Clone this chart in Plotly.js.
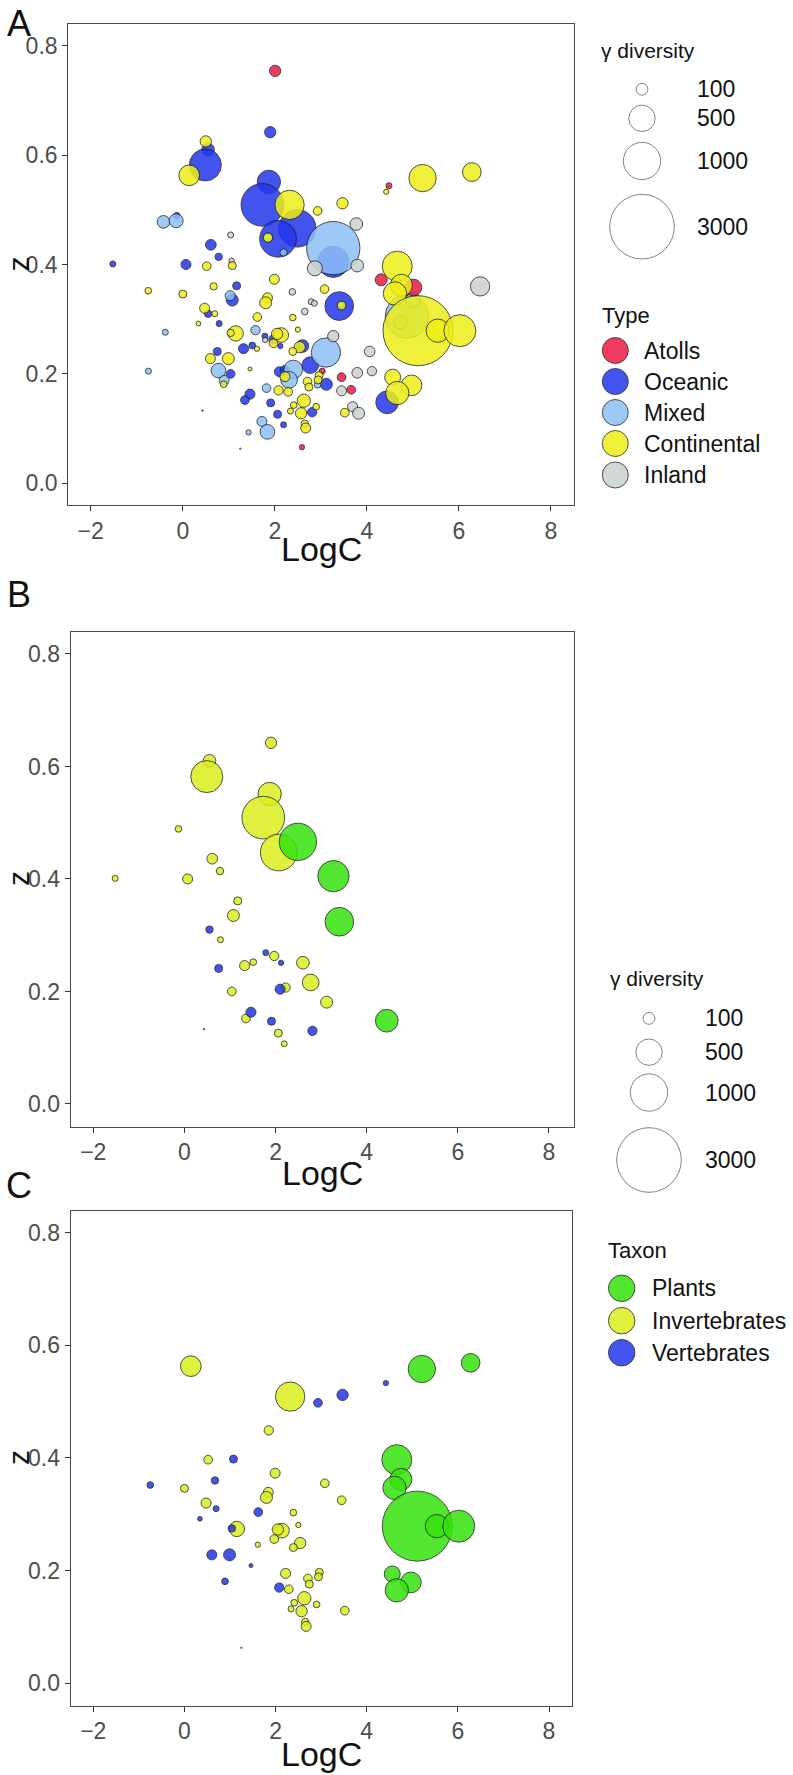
<!DOCTYPE html>
<html>
<head>
<meta charset="utf-8">
<script src="https://cdn.plot.ly/plotly-3.0.1.min.js"></script>
<style>
html,body{margin:0;padding:0;background:#ffffff;}
#chart{width:793px;height:1775px;}
</style>
</head>
<body>
<div id="chart"></div>
<script>
// ---------------- DATA ----------------
// Oceanic islands: panel B (coloured by taxon) and "Oceanic" in panel A
const oceanicLogC  = [1.90, 0.55, 0.49, 1.87, 1.73, 2.49, 2.07, -0.13, 0.61, 0.78, -1.52, 0.07, 3.27, 3.40, 1.17, 1.075, 0.55, 0.79, 1.785, 1.97, 2.12, 0.75, 1.32, 1.51, 2.60, 2.77, 2.10, 2.22, 1.04, 3.12, 1.46, 1.35, 1.91, 2.81, 2.06, 2.19, 0.43, 4.44];
const oceanicZ     = [0.642, 0.610, 0.582, 0.551, 0.509, 0.466, 0.447, 0.489, 0.436, 0.414, 0.401, 0.400, 0.405, 0.324, 0.361, 0.335, 0.310, 0.292, 0.269, 0.263, 0.251, 0.241, 0.246, 0.252, 0.251, 0.216, 0.204, 0.207, 0.200, 0.181, 0.163, 0.152, 0.147, 0.130, 0.126, 0.107, 0.133, 0.148];
const oceanicGamma = [92, 115, 735, 390, 1308, 1000, 966, 32, 82, 39, 26, 72, 704, 590, 46, 103, 39, 26, 26, 62, 20, 46, 72, 32, 115, 200, 72, 62, 54, 103, 72, 54, 46, 62, 46, 26, 1.5, 370];
const oceanicTaxon = ['Invertebrates','Invertebrates','Invertebrates','Invertebrates','Invertebrates','Plants','Invertebrates','Invertebrates','Invertebrates','Invertebrates',
                      'Invertebrates','Invertebrates','Plants','Plants','Invertebrates','Invertebrates','Vertebrates','Invertebrates','Vertebrates','Invertebrates',
                      'Vertebrates','Vertebrates','Invertebrates','Invertebrates','Invertebrates','Invertebrates','Vertebrates','Invertebrates','Invertebrates','Invertebrates',
                      'Vertebrates','Invertebrates','Vertebrates','Vertebrates','Invertebrates','Invertebrates','Vertebrates','Plants'];

// Continental islands: panel C (coloured by taxon) and "Continental" in panel A
const continentalLogC  = [0.14, 2.32, 2.93, 3.47, 4.42, 1.85, 0.52, 1.075, 1.99, -0.75, 0.67, 0.00, 3.08, 1.84, 1.80, 3.45, 0.475, 0.695, 0.34, 1.62,
                          2.39, 2.50, 1.15, 1.04, 2.14, 2.05, 1.97, 1.61, 2.54, 2.39, 0.60, 0.99, 1.46, 0.89, 2.22, 2.08, 2.29, 2.71, 2.74, 2.96,
                          2.94, 2.63, 2.41, 2.34, 2.57, 2.90, 3.52, 2.65, 2.67, 1.25, 5.21, 6.28, 4.66, 4.75, 4.61, 5.11, 5.54, 6.02, 4.56, 4.97,
                          4.66, 0.50];
const continentalZ     = [0.563, 0.509, 0.498, 0.512, 0.533, 0.449, 0.397, 0.398, 0.373, 0.352, 0.360, 0.346, 0.355, 0.339, 0.330, 0.325, 0.320, 0.310, 0.292, 0.304,
                          0.303, 0.281, 0.274, 0.275, 0.271, 0.273, 0.256, 0.246, 0.249, 0.241, 0.228, 0.228, 0.209, 0.181, 0.195, 0.170, 0.167, 0.186, 0.176, 0.197,
                          0.189, 0.151, 0.143, 0.132, 0.128, 0.140, 0.129, 0.109, 0.101, 0.063, 0.558, 0.569, 0.397, 0.362, 0.347, 0.279, 0.279, 0.279, 0.194, 0.179,
                          0.165, 0.625];
const continentalGamma = [307, 617, 54, 92, 20, 62, 54, 46, 72, 32, 39, 46, 54, 72, 103, 54, 72, 26, 16, 54,
                          32, 20, 169, 39, 155, 92, 54, 20, 92, 46, 72, 103, 11.5, 32, 72, 62, 54, 54, 46, 46,
                          46, 127, 32, 26, 92, 32, 54, 39, 72, 1.5, 536, 251, 646, 348, 390, 3520, 390, 735, 184, 307,
                          390, 92];
const continentalTaxon = ['Invertebrates','Invertebrates','Vertebrates','Vertebrates','Vertebrates','Invertebrates','Invertebrates','Vertebrates','Invertebrates','Vertebrates',
                          'Vertebrates','Invertebrates','Invertebrates','Invertebrates','Invertebrates','Invertebrates','Invertebrates','Vertebrates','Vertebrates','Vertebrates',
                          'Invertebrates','Invertebrates','Invertebrates','Vertebrates','Invertebrates','Invertebrates','Invertebrates','Invertebrates','Invertebrates','Invertebrates',
                          'Vertebrates','Vertebrates','Vertebrates','Vertebrates','Invertebrates','Vertebrates','Invertebrates','Invertebrates','Invertebrates','Invertebrates',
                          'Invertebrates','Invertebrates','Invertebrates','Invertebrates','Invertebrates','Invertebrates','Invertebrates','Invertebrates','Invertebrates','Invertebrates',
                          'Plants','Plants','Plants','Plants','Plants','Plants','Plants','Plants','Plants','Plants',
                          'Plants', null];

// Atolls (panel A only)
const atollsLogC  = [2.006, 4.48, 4.31, 5.01, 3.03, 3.45, 3.66, 2.59];
const atollsZ     = [0.754, 0.544, 0.372, 0.358, 0.205, 0.194, 0.171, 0.066];
const atollsGamma = [92, 26, 103, 200, 26, 54, 54, 20];

// Mixed (panel A only)
const mixedLogC  = [3.27, -0.42, -0.145, 1.03, -0.38, 1.58, 3.11, 0.775, 0.90, -0.746, 2.40, 2.31, 2.93, 1.82, 1.72, 1.84, 1.43, 4.87, 1.86, 2.19, 3.43, 4.73, 5.00];
const mixedZ     = [0.430, 0.478, 0.480, 0.343, 0.276, 0.280, 0.239, 0.206, 0.188, 0.205, 0.208, 0.189, 0.180, 0.174, 0.113, 0.094, 0.093, 0.305, 0.450, 0.422, 0.326, 0.294, 0.335];
const mixedGamma = [2040, 115, 141, 72, 26, 62, 617, 155, 72, 26, 251, 200, 32, 54, 72, 155, 20, 1340, 54, 39, 32, 127, 150];

// Inland (panel A only)
const inlandLogC  = [3.77, 2.87, 3.79, 1.04, 1.06, 2.38, 2.79, 2.86, 2.65, 1.79, 3.27, 3.79, 4.11, 4.06, 3.45, 3.69, 3.82, 6.46];
const inlandZ     = [0.474, 0.393, 0.398, 0.454, 0.407, 0.350, 0.332, 0.329, 0.314, 0.262, 0.269, 0.202, 0.205, 0.241, 0.169, 0.140, 0.128, 0.360];
const inlandGamma = [115, 162, 115, 26, 20, 32, 26, 26, 32, 20, 92, 82, 62, 82, 72, 72, 103, 268];

const typeNames  = ['Atolls', 'Oceanic', 'Mixed', 'Continental', 'Inland'];
const taxonNames = ['Plants', 'Invertebrates', 'Vertebrates'];
const sizeBreaks = [100, 500, 1000, 3000];
const sizeLabels = ['100', '500', '1000', '3000'];
const xTicks = [-2, 0, 2, 4, 6, 8];
const yTicks = [0, 0.2, 0.4, 0.6, 0.8];

// ---------------- STYLE ----------------
const FONT = '"Liberation Sans", Arial, Helvetica, sans-serif';
const W = 793, H = 1775;
const SIZEREF = 1.436;
const ALPHA = 0.85;
const typeColors  = {Atolls:'#EE1843', Oceanic:'#2337EC', Mixed:'#8DC0F5', Continental:'#EEEE18', Inland:'#CBD1D1'};
const taxonColors = {Plants:'#36E20C', Invertebrates:'#DAEE1E', Vertebrates:'#2337EC'};

function bubble(x, y, g, color, xa, ya) {
  return {type:'scatter', mode:'markers', x:x, y:y, xaxis:xa, yaxis:ya,
    marker:{size:g, sizemode:'area', sizeref:SIZEREF, sizemin:0.7, color:color, opacity:ALPHA,
            line:{color:'#1a1a1a', width:0.9}},
    hoverinfo:'x+y', showlegend:false};
}
function pick(arr, taxa, name) { return arr.filter((_, i) => taxa[i] === name); }

const traces = [];
// Panel A : by island type
traces.push(bubble(oceanicLogC, oceanicZ, oceanicGamma, typeColors.Oceanic, 'x', 'y'));
traces.push(bubble(mixedLogC, mixedZ, mixedGamma, typeColors.Mixed, 'x', 'y'));
traces.push(bubble(inlandLogC, inlandZ, inlandGamma, typeColors.Inland, 'x', 'y'));
traces.push(bubble(atollsLogC, atollsZ, atollsGamma, typeColors.Atolls, 'x', 'y'));
traces.push(bubble(continentalLogC, continentalZ, continentalGamma, typeColors.Continental, 'x', 'y'));
// Panel B : oceanic islands by taxon ; Panel C : continental islands by taxon
['Invertebrates', 'Plants', 'Vertebrates'].forEach(t => {
  traces.push(bubble(pick(oceanicLogC, oceanicTaxon, t), pick(oceanicZ, oceanicTaxon, t),
                     pick(oceanicGamma, oceanicTaxon, t), taxonColors[t], 'x2', 'y2'));
});
['Invertebrates', 'Plants', 'Vertebrates'].forEach(t => {
  traces.push(bubble(pick(continentalLogC, continentalTaxon, t), pick(continentalZ, continentalTaxon, t),
                     pick(continentalGamma, continentalTaxon, t), taxonColors[t], 'x3', 'y3'));
});

// ---------------- LEGENDS (overlay axes in page pixels) ----------------
const sizeLegA = {x:642, ys:[89.3, 118.3, 161, 226.7], lx:696, title:{x:600, y:50}};
const sizeLegB = {x:649, ys:[1018.4, 1052.2, 1092.5, 1160], lx:704, title:{x:609, y:978}};
const typeLeg  = {x:615.3, ys:[350.5, 381.5, 412.5, 443.5, 475], lx:643.3, title:{x:600.5, y:315}, d:26};
const taxonLeg = {x:621.7, ys:[1288.3, 1320.7, 1352.7], lx:650.7, title:{x:606.5, y:1250}, d:26.5};

function sizeLegendTrace(leg) {
  return {type:'scatter', mode:'markers', xaxis:'x4', yaxis:'y4',
    x:sizeBreaks.map(() => leg.x), y:leg.ys,
    marker:{size:sizeBreaks, sizemode:'area', sizeref:SIZEREF, color:'rgba(255,255,255,0)',
            line:{color:'#3a3a3a', width:0.9}}, hoverinfo:'skip', showlegend:false};
}
traces.push(sizeLegendTrace(sizeLegA));
traces.push(sizeLegendTrace(sizeLegB));
traces.push({type:'scatter', mode:'markers', xaxis:'x4', yaxis:'y4',
  x:typeNames.map(() => typeLeg.x), y:typeLeg.ys,
  marker:{size:typeLeg.d, color:typeNames.map(n => typeColors[n]), opacity:ALPHA, line:{color:'#1a1a1a', width:0.9}},
  hoverinfo:'skip', showlegend:false});
traces.push({type:'scatter', mode:'markers', xaxis:'x4', yaxis:'y4',
  x:taxonNames.map(() => taxonLeg.x), y:taxonLeg.ys,
  marker:{size:taxonLeg.d, color:taxonNames.map(n => taxonColors[n]), opacity:ALPHA, line:{color:'#1a1a1a', width:0.9}},
  hoverinfo:'skip', showlegend:false});

const annotations = [];
function txt(x, y, s, size, extra) {
  annotations.push(Object.assign({xref:'x4', yref:'y4', x:x, y:y, text:s, showarrow:false,
    xanchor:'left', yanchor:'middle', borderpad:0,
    font:{family:FONT, size:size, color:'#111111'}}, extra || {}));
}
// legend texts
txt(sizeLegA.title.x, sizeLegA.title.y, 'γ diversity', 21);
sizeLabels.forEach((s, i) => txt(sizeLegA.lx, sizeLegA.ys[i], s, 23));
txt(sizeLegB.title.x, sizeLegB.title.y, 'γ diversity', 21);
sizeLabels.forEach((s, i) => txt(sizeLegB.lx, sizeLegB.ys[i], s, 23));
txt(typeLeg.title.x, typeLeg.title.y, 'Type', 22);
typeNames.forEach((s, i) => txt(typeLeg.lx, typeLeg.ys[i], s, 23));
txt(taxonLeg.title.x, taxonLeg.title.y, 'Taxon', 22);
taxonNames.forEach((s, i) => txt(taxonLeg.lx, taxonLeg.ys[i], s, 23));
// panel letters
txt(6, 23, 'A', 36);
txt(6, 594, 'B', 36);
txt(5, 1185, 'C', 36);
// axis titles
[[321, 549], [322, 1173], [321, 1754]].forEach(p => txt(p[0], p[1], 'LogC', 34, {xanchor:'center'}));
// rotated "z" kept fully inside the page's left edge
[[18, 264.5], [18, 879], [18, 1458]].forEach(p => txt(p[0], p[1], 'z', 30,
  {xanchor:'center', textangle:-90}));

// ---------------- AXES ----------------
function xAxis(domain, range, anchor) {
  return {domain:domain, range:range, anchor:anchor, tickmode:'array', tickvals:xTicks,
    ticks:'outside', ticklen:5, tickwidth:1, tickcolor:'#333333',
    showline:true, linecolor:'#4a4a4a', linewidth:1.1, mirror:true,
    showgrid:false, zeroline:false, fixedrange:true,
    tickfont:{family:FONT, size:23, color:'#4D4D4D'}};
}
function yAxis(domain, range, anchor) {
  return {domain:domain, range:range, anchor:anchor, tickmode:'array', tickvals:yTicks, tickformat:'.1f',
    ticks:'outside', ticklen:5, tickwidth:1, tickcolor:'#333333',
    showline:true, linecolor:'#4a4a4a', linewidth:1.1, mirror:true,
    showgrid:false, zeroline:false, fixedrange:true,
    tickfont:{family:FONT, size:23, color:'#4D4D4D'}};
}
const pxX = (a, b) => [a / W, b / W];
const pxY = (top, bottom) => [1 - bottom / H, 1 - top / H];

const layout = {
  width:W, height:H, autosize:false,
  margin:{l:0, r:0, t:0, b:0, pad:0},
  paper_bgcolor:'#ffffff', plot_bgcolor:'rgba(0,0,0,0)',
  showlegend:false,
  font:{family:FONT},
  xaxis:  xAxis(pxX(68.3, 574),  [-2.487, 8.5],   'y'),
  yaxis:  yAxis(pxY(24, 505),    [-0.0397, 0.8397], 'x'),
  xaxis2: xAxis(pxX(70.7, 574),  [-2.496, 8.549], 'y2'),
  yaxis2: yAxis(pxY(632, 1126.7),[-0.0404, 0.839], 'x2'),
  xaxis3: xAxis(pxX(70.7, 571.7),[-2.496, 8.498], 'y3'),
  yaxis3: yAxis(pxY(1211, 1705.7),[-0.0398, 0.8385], 'x3'),
  xaxis4: {domain:[0, 1], range:[0, W], visible:false, fixedrange:true, anchor:'y4'},
  yaxis4: {domain:[0, 1], range:[H, 0], visible:false, fixedrange:true, anchor:'x4'},
  annotations:annotations
};

Plotly.newPlot('chart', traces, layout, {displayModeBar:false, staticPlot:true});
</script>
</body>
</html>
